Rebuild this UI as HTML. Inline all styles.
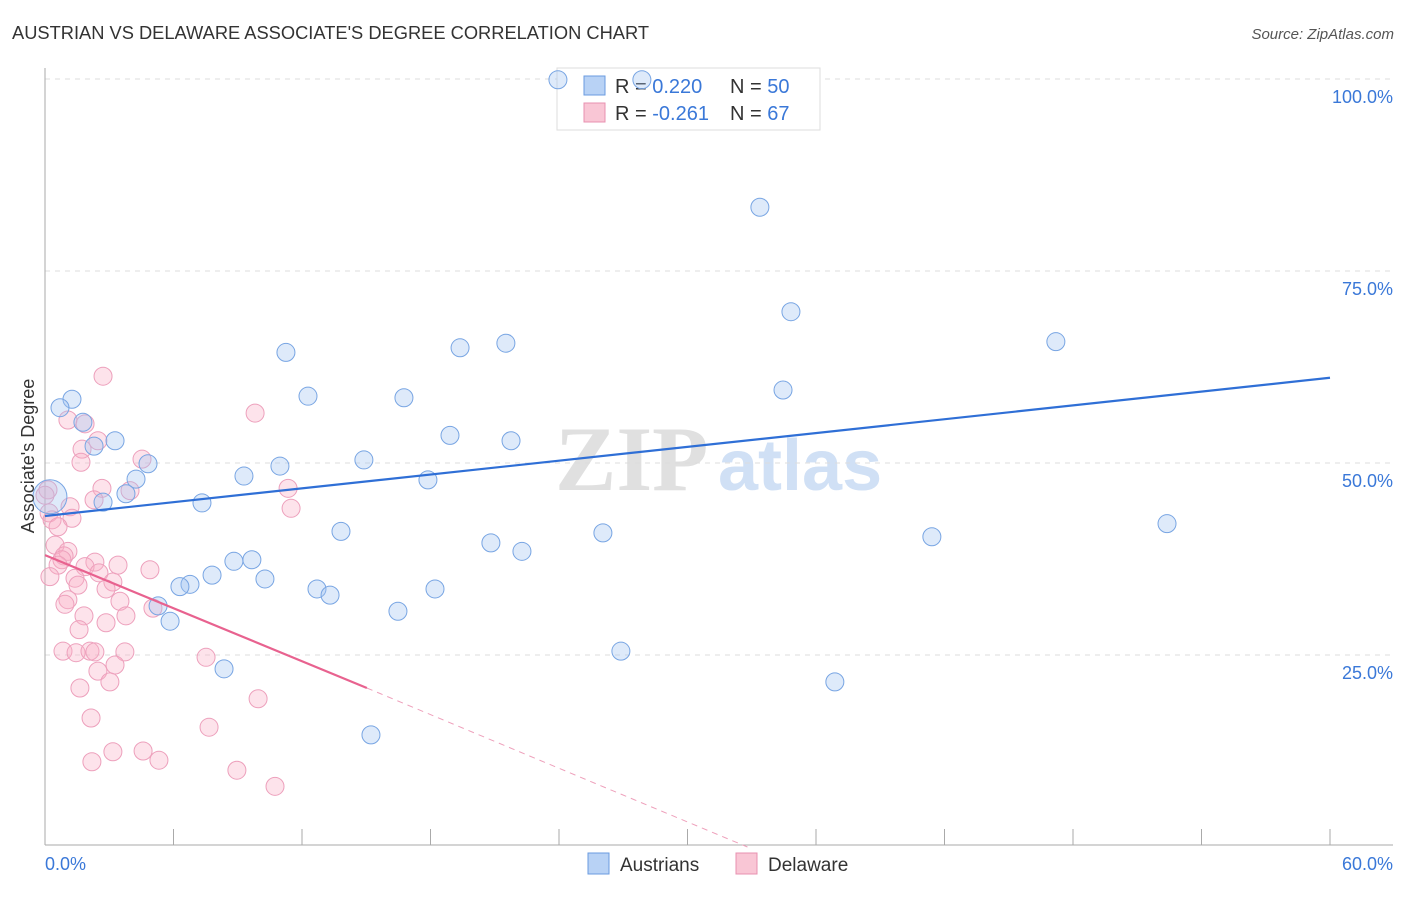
<!DOCTYPE html>
<html><head><meta charset="utf-8"><style>
body{margin:0;background:#fff;font-family:"Liberation Sans",sans-serif}
</style></head><body>
<svg width="1406" height="892" xmlns="http://www.w3.org/2000/svg" font-family="Liberation Sans, sans-serif">
<text x="12" y="39" font-size="18.3" fill="#333">AUSTRIAN VS DELAWARE ASSOCIATE'S DEGREE CORRELATION CHART</text>
<text x="1394" y="39" font-size="15" fill="#555" text-anchor="end" font-style="italic">Source: ZipAtlas.com</text>
<g>
<text x="555" y="490" font-size="92" fill="#e0e0e0" font-family="Liberation Serif, serif" font-weight="bold">ZIP</text>
<text x="718" y="490" font-size="72" fill="#d0e0f5" font-weight="bold">atlas</text>
</g>
<g id="grid"></g>
<g id="axes"></g>
<g>
<rect x="557" y="68" width="263" height="62" fill="#fff" stroke="#ddd"/>
<rect x="584" y="76" width="21" height="19" fill="#b8d2f5" stroke="#6a9be0"/>
<text x="615" y="93" font-size="20" fill="#333">R = <tspan fill="#3a78d8">0.220</tspan><tspan x="730">N = </tspan><tspan fill="#3a78d8">50</tspan></text>
<rect x="584" y="103" width="21" height="19" fill="#f9c6d5" stroke="#e890b0"/>
<text x="615" y="120" font-size="20" fill="#333">R = <tspan fill="#3a78d8">-0.261</tspan><tspan x="730">N = </tspan><tspan fill="#3a78d8"> 67</tspan></text>
</g>
<g id="marks"></g>
<text transform="translate(34,456) rotate(-90)" font-size="18" fill="#333" text-anchor="middle">Associate's Degree</text>
<g>
<rect x="588" y="853" width="21" height="21" fill="#b8d2f5" stroke="#6a9be0"/>
<text x="620" y="871" font-size="19" fill="#333">Austrians</text>
<rect x="736" y="853" width="21" height="21" fill="#f9c6d5" stroke="#e890b0"/>
<text x="768" y="871" font-size="19" fill="#333">Delaware</text>
</g>
</svg>
<script>
const yTicks=[25,50,75,100];
const yTickLabels=["25.0%","50.0%","75.0%","100.0%"];
const xTickLabels=["0.0%","60.0%"];
const xTickMarks=[0,6,12,18,24,30,36,42,48,54,60];
const austriansX=[23.95,27.87,33.38,34.83,47.2,11.25,19.38,21.52,34.46,12.28,16.76,1.26,0.70,1.77,18.91,3.27,21.76,2.29,14.89,4.81,10.97,9.29,17.88,4.25,3.78,0.23,2.71,7.33,52.39,13.82,26.05,41.41,20.82,22.27,9.66,8.82,7.80,10.27,6.77,6.30,12.70,18.21,13.31,5.28,16.48,5.84,26.89,8.36,36.88,15.22];
const austriansY=[99.9,99.9,83.3,69.7,65.8,64.4,65.0,65.6,59.5,58.7,58.5,58.3,57.2,55.3,53.6,52.9,52.9,52.2,50.4,49.9,49.6,48.3,47.8,47.9,46.0,45.6,44.9,44.8,42.1,41.1,40.9,40.4,39.6,38.5,37.4,37.2,35.4,34.9,34.2,33.9,33.6,33.6,32.8,31.4,30.7,29.4,25.5,23.2,21.5,14.6];
const delawareX=[2.71,9.81,1.07,1.87,2.47,1.73,4.53,1.68,11.35,2.66,3.97,0.14,0,2.29,11.49,1.17,0.19,1.26,0.33,0.61,0.47,1.07,0.89,0.79,0.61,2.33,3.41,4.90,1.87,2.52,1.40,0.23,3.17,1.54,2.85,3.50,1.07,0.93,5.04,1.82,3.78,2.85,1.59,0.84,1.45,2.10,2.33,3.73,7.52,3.27,2.47,3.03,1.63,9.95,2.15,7.66,3.17,4.58,2.19,5.32,8.96,10.74];
const delawareY=[61.3,56.5,55.6,55.1,52.9,51.8,50.5,50.1,46.7,46.7,46.4,46.5,45.8,45.2,44.1,44.3,43.5,42.8,42.6,41.7,39.3,38.5,37.9,37.4,36.7,37.1,36.7,36.1,36.5,35.7,35.0,35.2,34.5,34.1,33.6,32.0,32.2,31.6,31.1,30.1,30.1,29.2,28.3,25.5,25.3,25.5,25.4,25.4,24.7,23.7,22.9,21.5,20.7,19.3,16.8,15.6,12.4,12.5,11.1,11.3,10.0,7.9];
const blueTrend=[[0,43.1],[60,61.1]];
const pinkTrend=[[0,38.0],[15.03,20.7]];
const pinkDash=[[15.03,20.7],[32.8,0]];
const NS="http://www.w3.org/2000/svg";
const X=v=>45+v/60*1285, Y=v=>847-v*7.68;
function mk(t,a,p){const e=document.createElementNS(NS,t);for(const k in a)e.setAttribute(k,a[k]);document.getElementById(p).appendChild(e);return e;}
yTicks.forEach((t,i)=>{
 const g=mk('line',{x1:45,x2:1393,y1:Y(t),y2:Y(t),stroke:'#ddd','stroke-dasharray':'5,5'},'grid');
 
 
 const l=mk('text',{x:1393,y:Y(t)+24,'font-size':18,fill:'#3a78d8','text-anchor':'end'},'axes');
 l.textContent=yTickLabels[i];
 
 
});
let a=mk('line',{x1:45,x2:45,y1:68,y2:845,stroke:'#aaa'},'axes');


a=mk('line',{x1:45,x2:1393,y1:845,y2:845,stroke:'#aaa'},'axes');


xTickMarks.forEach(t=>{
 const k=mk('line',{x1:X(t),x2:X(t),y1:829,y2:845,stroke:'#aaa'},'axes');
 
 
});
let xl=mk('text',{x:45,y:870,'font-size':18,fill:'#3a78d8'},'axes');xl.textContent=xTickLabels[0];


xl=mk('text',{x:1393,y:870,'font-size':18,fill:'#3a78d8','text-anchor':'end'},'axes');xl.textContent=xTickLabels[1];


delawareX.forEach((x,i)=>{
 const c=mk('circle',{cx:X(x),cy:Y(delawareY[i]),r:9,fill:'rgba(248,175,198,0.35)',stroke:'#eda0bc','stroke-width':1},'marks');
 
 
});
austriansX.forEach((x,i)=>{
 const c=mk('circle',{cx:X(x),cy:Y(austriansY[i]),r:i===25?17:9,fill:'rgba(160,196,240,0.35)',stroke:'#78a5e3','stroke-width':1},'marks');
 
 
});
function ln(p,s,w,d){const l=mk('line',{x1:X(p[0][0]),y1:Y(p[0][1]),x2:X(p[1][0]),y2:Y(p[1][1]),stroke:s,'stroke-width':w},'marks');if(d)l.setAttribute('stroke-dasharray',d);return l;}
let t1=ln(blueTrend,'#2f6fd6',2.2);


let t2=ln(pinkTrend,'#e8628f',2.2);


let t3=ln(pinkDash,'#eea0bb',1,'6,5');


</script>
</body></html>
